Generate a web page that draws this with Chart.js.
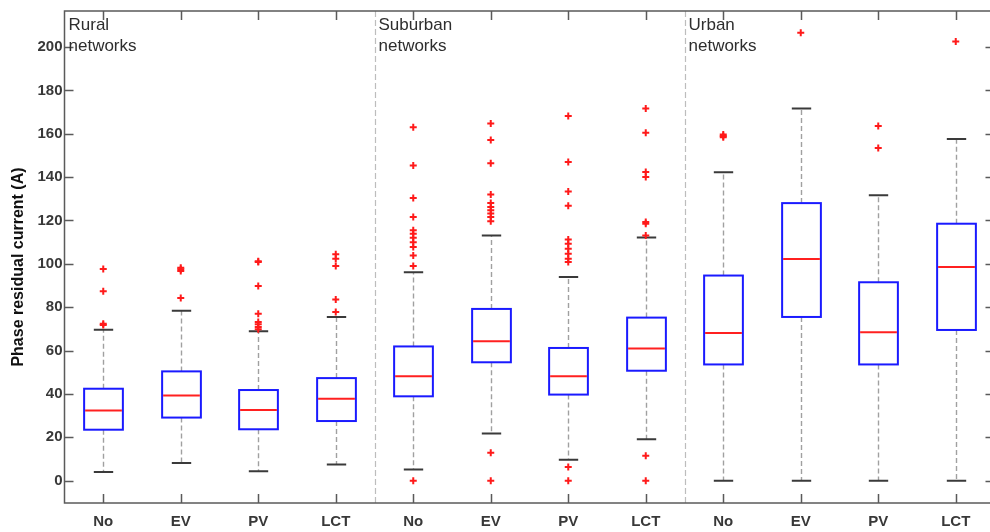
<!DOCTYPE html>
<html>
<head>
<meta charset="utf-8">
<script src="https://cdn.jsdelivr.net/npm/chart.js@4/dist/chart.umd.min.js"></script>
<style>
  html, body { margin: 0; padding: 0; background: #fff; overflow: hidden; }
  #wrap { width: 1000px; height: 532px; }
  canvas { display: block; }
</style>
</head>
<body>
<div id="wrap"><canvas id="c" width="1000" height="532"></canvas></div>
<script>
// Scenario labels along the x axis (four per network type)
const categories = ['No', 'EV', 'PV', 'LCT', 'No', 'EV', 'PV', 'LCT', 'No', 'EV', 'PV', 'LCT'];
const groupLabels = [['Rural', 'networks'], ['Suburban', 'networks'], ['Urban', 'networks']];
const yTickValues = [0, 20, 40, 60, 80, 100, 120, 140, 160, 180, 200];

// Box statistics per scenario (A)
const whiskerLow  = [4.0, 8.1, 4.4, 7.5,   5.2, 21.7, 9.7, 19.1,   0, 0, 0, 0];
const quartile1   = [23.5, 29.1, 23.7, 27.5,   38.9, 54.6, 39.7, 50.7,   53.6, 75.5, 53.6, 69.5];
const medians     = [32.4, 39.3, 32.6, 37.8,   48.1, 64.3, 48.1, 60.9,   68.1, 102.2, 68.4, 98.5];
const quartile3   = [42.4, 50.4, 41.8, 47.3,   61.9, 79.2, 61.2, 75.2,   94.6, 128.0, 91.5, 118.5];
const whiskerHigh = [69.6, 78.4, 68.9, 75.5,   96.1, 113.1, 93.9, 112.1,   142.2, 171.6, 131.6, 157.6];

// Outlying observations per scenario (A)
const outliers = [
  [71.8, 72.4, 87.3, 97.6],
  [84.2, 96.7, 97.5, 98.2],
  [69.8, 70.9, 72.1, 73.2, 77.0, 89.8, 100.8, 101.2],
  [77.8, 83.5, 99.0, 102.4, 104.4],
  [0, 99.0, 103.8, 107.8, 110.0, 112.0, 113.9, 115.5, 121.6, 130.4, 145.4, 163.0],
  [0, 12.9, 119.6, 121.6, 123.2, 124.7, 126.2, 128.0, 132.0, 146.4, 157.1, 164.7],
  [0, 6.3, 100.8, 102.4, 104.7, 107.0, 109.3, 111.2, 126.8, 133.3, 147.0, 168.2],
  [0, 11.5, 113.1, 118.5, 119.3, 140.0, 142.3, 160.5, 171.6],
  [158.4, 159.0, 159.6],
  [206.6],
  [153.4, 163.6],
  [202.5]
];

const outlierPoints = [];
outliers.forEach((list, i) => list.forEach(v => outlierPoints.push({ x: i + 1, y: v })));

const AXIS_COLOR = '#5a5a5a';
const TEXT_COLOR = '#383838';
const FONT = '"Liberation Sans", Arial, sans-serif';

// Draws group separators, whiskers, boxes and medians beneath the outlier markers
const boxPlotPlugin = {
  id: 'boxPlot',
  beforeDatasetsDraw(chart) {
    const { ctx, chartArea, scales: { x, y } } = chart;
    const unit = x.getPixelForValue(1) - x.getPixelForValue(0);
    const boxHalf = unit * 0.25;
    const capHalf = unit * 0.125;
    ctx.save();

    // dashed separators between network types
    ctx.strokeStyle = '#bdbdbd';
    ctx.lineWidth = 1.2;
    ctx.setLineDash([6, 3]);
    [4.5, 8.5].forEach(v => {
      const px = Math.round(x.getPixelForValue(v)) + 0.5;
      ctx.beginPath();
      ctx.moveTo(px, chartArea.top);
      ctx.lineTo(px, chartArea.bottom);
      ctx.stroke();
    });

    categories.forEach((_, i) => {
      const cx = Math.round(x.getPixelForValue(i + 1)) + 0.5;
      const yLo = y.getPixelForValue(whiskerLow[i]);
      const yQ1 = y.getPixelForValue(quartile1[i]);
      const yMed = y.getPixelForValue(medians[i]);
      const yQ3 = y.getPixelForValue(quartile3[i]);
      const yHi = y.getPixelForValue(whiskerHigh[i]);

      // whiskers
      ctx.strokeStyle = '#a0a0a0';
      ctx.lineWidth = 1.4;
      ctx.setLineDash([5, 3]);
      ctx.beginPath();
      ctx.moveTo(cx, yQ3); ctx.lineTo(cx, yHi);
      ctx.moveTo(cx, yQ1); ctx.lineTo(cx, yLo);
      ctx.stroke();

      // whisker caps
      ctx.setLineDash([]);
      ctx.strokeStyle = '#3a3a3a';
      ctx.lineWidth = 2;
      ctx.beginPath();
      ctx.moveTo(cx - capHalf, yHi); ctx.lineTo(cx + capHalf, yHi);
      ctx.moveTo(cx - capHalf, yLo); ctx.lineTo(cx + capHalf, yLo);
      ctx.stroke();

      // box
      ctx.strokeStyle = '#1a1aff';
      ctx.lineWidth = 2;
      ctx.strokeRect(cx - boxHalf, yQ3, boxHalf * 2, yQ1 - yQ3);

      // median
      ctx.strokeStyle = '#ff2020';
      ctx.lineWidth = 2;
      ctx.beginPath();
      ctx.moveTo(cx - boxHalf + 1, yMed); ctx.lineTo(cx + boxHalf - 1, yMed);
      ctx.stroke();
    });
    ctx.restore();
  },
  afterDraw(chart) {
    const { ctx, chartArea: a, scales: { x, y } } = chart;
    ctx.save();
    ctx.setLineDash([]);

    // axes frame
    ctx.strokeStyle = AXIS_COLOR;
    ctx.lineWidth = 1.5;
    ctx.strokeRect(a.left, a.top, a.right - a.left, a.bottom - a.top);

    // inward tick marks
    const tick = 9;
    ctx.beginPath();
    x.ticks.forEach(t => {
      const px = Math.round(x.getPixelForValue(t.value)) + 0.5;
      ctx.moveTo(px, a.bottom); ctx.lineTo(px, a.bottom - tick);
      ctx.moveTo(px, a.top); ctx.lineTo(px, a.top + tick);
    });
    y.ticks.forEach(t => {
      const py = Math.round(y.getPixelForValue(t.value)) + 0.5;
      ctx.moveTo(a.left, py); ctx.lineTo(a.left + tick, py);
      ctx.moveTo(a.right, py); ctx.lineTo(a.right - tick, py);
    });
    ctx.stroke();

    // network type captions
    ctx.fillStyle = '#2e2e2e';
    ctx.font = '17px ' + FONT;
    ctx.textAlign = 'left';
    ctx.textBaseline = 'alphabetic';
    [0.5, 4.5, 8.5].forEach((v, g) => {
      const px = x.getPixelForValue(v) + 4;
      ctx.fillText(groupLabels[g][0], px, a.top + 19);
      ctx.fillText(groupLabels[g][1], px, a.top + 40);
    });

    // y axis title
    ctx.fillStyle = '#111';
    ctx.font = 'bold 16px ' + FONT;
    ctx.translate(19, 267);
    ctx.rotate(-Math.PI / 2);
    ctx.textAlign = 'center';
    ctx.textBaseline = 'middle';
    ctx.fillText('Phase residual current (A)', 0, 0);
    ctx.restore();
  }
};

new Chart(document.getElementById('c'), {
  type: 'scatter',
  data: {
    datasets: [{
      label: 'Outliers',
      data: outlierPoints,
      pointStyle: 'cross',
      pointRadius: 3.5,
      pointHoverRadius: 3.5,
      borderColor: '#ff1a1a',
      backgroundColor: '#ff1a1a',
      borderWidth: 2
    }]
  },
  options: {
    responsive: false,
    animation: false,
    devicePixelRatio: 1,
    layout: { padding: { top: 10.5, right: 2, left: 0, bottom: 0 } },
    plugins: { legend: { display: false }, tooltip: { enabled: false } },
    scales: {
      x: {
        type: 'linear',
        min: 0.5,
        max: 12.5,
        afterBuildTicks: s => { s.ticks = categories.map((_, i) => ({ value: i + 1 })); },
        afterFit: s => { s.height = 29; },
        grid: { display: false, drawTicks: false },
        border: { display: false },
        ticks: {
          autoSkip: false,
          maxRotation: 0,
          padding: 10,
          color: TEXT_COLOR,
          font: { family: FONT, size: 15, weight: 'bold' },
          callback: v => categories[Math.round(v) - 1]
        }
      },
      y: {
        min: -10.3,
        max: 216.6,
        afterBuildTicks: s => { s.ticks = yTickValues.map(v => ({ value: v })); },
        afterFit: s => { s.width = 64.5; },
        grid: { display: false, drawTicks: false },
        border: { display: false },
        ticks: {
          padding: 2,
          color: TEXT_COLOR,
          font: { family: FONT, size: 15, weight: 'bold' }
        }
      }
    }
  },
  plugins: [boxPlotPlugin]
});
</script>
</body>
</html>
